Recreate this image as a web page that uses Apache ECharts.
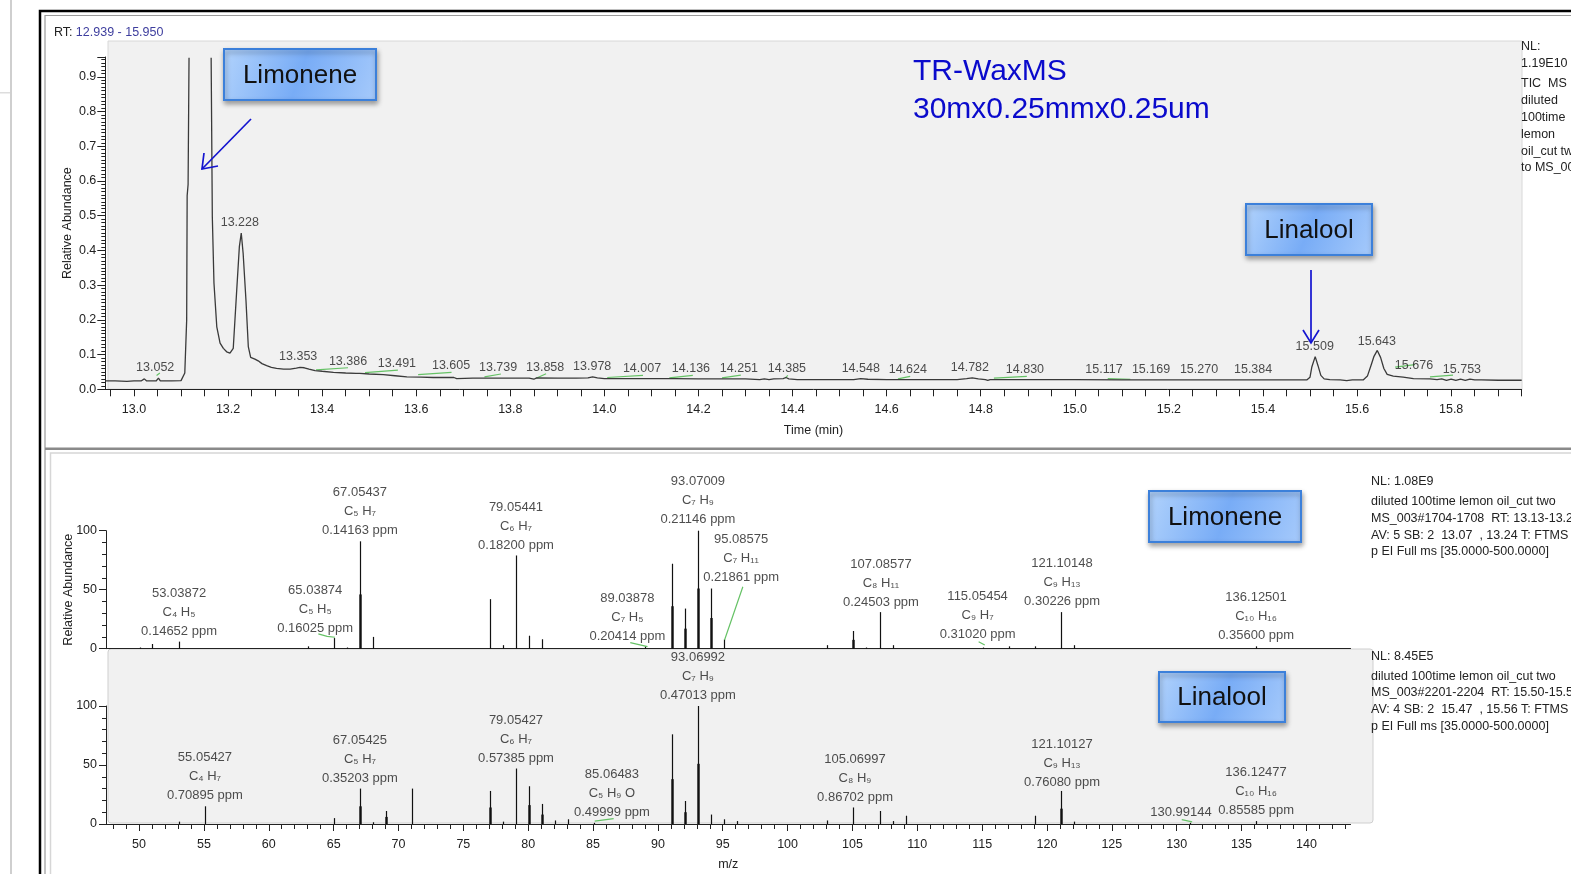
<!DOCTYPE html>
<html><head><meta charset="utf-8">
<script src="https://cdn.jsdelivr.net/npm/echarts@6/dist/echarts.min.js"></script>
<style>html,body{margin:0;padding:0;background:#fff;overflow:hidden}#c{width:1571px;height:874px}</style>
</head><body><div id="c"></div>
<script>
// ---------------- DATA ----------------
// TIC chromatogram trace [time (min), relative abundance]; null = off-scale gap
const ticTrace = [
[12.939,0.024],[12.96,0.024],[12.985,0.023],[13.0,0.024],[13.015,0.024],[13.022,0.030],[13.027,0.024],[13.047,0.024],[13.052,0.032],[13.056,0.024],[13.08,0.024],[13.1,0.025],[13.104,0.027],[13.108,0.047],[13.112,0.2],[13.113,0.557],[13.115,0.59],[13.117,0.955],
[13.14,null],
[13.164,0.955],[13.1665,0.497],[13.170,0.306],[13.176,0.18],[13.183,0.133],[13.19,0.118],[13.197,0.108],[13.204,0.104],[13.211,0.118],[13.218,0.277],[13.224,0.411],[13.228,0.45],[13.232,0.392],[13.238,0.257],[13.243,0.123],[13.248,0.092],[13.257,0.087],[13.264,0.082],[13.272,0.074],[13.282,0.068],[13.292,0.063],[13.303,0.060],[13.318,0.058],[13.332,0.058],[13.345,0.061],[13.353,0.063],[13.362,0.062],[13.372,0.058],[13.385,0.054],[13.40,0.052],[13.424,0.049],[13.45,0.047],[13.472,0.046],[13.476,0.043],[13.48,0.046],[13.5,0.044],[13.53,0.042],[13.555,0.039],[13.58,0.036],[13.61,0.035],[13.636,0.034],[13.68,0.034],[13.686,0.031],[13.72,0.032],[13.76,0.032],[13.8,0.032],[13.84,0.032],[13.85,0.029],[13.856,0.033],[13.9,0.032],[13.94,0.032],[13.965,0.033],[13.975,0.036],[13.985,0.033],[14.0,0.031],[14.05,0.031],[14.1,0.031],[14.15,0.031],[14.2,0.030],[14.25,0.030],[14.3,0.030],[14.33,0.028],[14.34,0.030],[14.35,0.028],[14.36,0.030],[14.38,0.031],[14.386,0.034],[14.392,0.030],[14.41,0.028],[14.45,0.028],[14.5,0.028],[14.53,0.028],[14.545,0.031],[14.56,0.029],[14.6,0.028],[14.65,0.028],[14.7,0.028],[14.75,0.028],[14.77,0.031],[14.782,0.033],[14.795,0.030],[14.81,0.028],[14.815,0.026],[14.82,0.028],[14.9,0.028],[15.0,0.028],[15.1,0.027],[15.2,0.027],[15.3,0.027],[15.4,0.027],[15.493,0.027],[15.50,0.035],[15.504,0.065],[15.511,0.094],[15.517,0.068],[15.523,0.040],[15.53,0.030],[15.542,0.028],[15.564,0.027],[15.578,0.025],[15.59,0.027],[15.613,0.027],[15.622,0.038],[15.630,0.070],[15.636,0.095],[15.643,0.112],[15.650,0.092],[15.657,0.060],[15.664,0.043],[15.677,0.038],[15.698,0.035],[15.72,0.031],[15.755,0.030],[15.77,0.028],[15.78,0.030],[15.79,0.026],[15.80,0.029],[15.81,0.026],[15.82,0.029],[15.83,0.026],[15.84,0.029],[15.85,0.027],[15.865,0.027],[15.9,0.026],[15.95,0.026]
];
// retention time peak labels: text, label x (min), label y (abundance)
const rtLabelText = ['13.052','13.228','13.353','13.386','13.491','13.605','13.739','13.858','13.978','14.007','14.136','14.251','14.385','14.548','14.624','14.782','14.830','15.117','15.169','15.270','15.384','15.509','15.643','15.676','15.753'];
const rtLabelX = [13.045,13.225,13.349,13.455,13.559,13.674,13.774,13.874,13.974,14.080,14.184,14.286,14.388,14.545,14.645,14.777,14.894,15.062,15.162,15.264,15.379,15.510,15.642,15.721,15.823];
const rtLabelY = [0.062,0.481,0.094,0.080,0.073,0.067,0.063,0.063,0.065,0.060,0.060,0.060,0.060,0.060,0.058,0.064,0.058,0.058,0.058,0.058,0.058,0.123,0.137,0.068,0.058];
// integration baselines (green) [t1,v1,t2,v2]
const rtBaselines = [[13.048,0.040,13.055,0.047],[13.387,0.056,13.455,0.062],[13.491,0.048,13.561,0.055],[13.604,0.042,13.675,0.049],[13.745,0.036,13.780,0.044],[13.855,0.032,13.876,0.045],[14.006,0.034,14.082,0.040],[14.138,0.033,14.188,0.040],[14.250,0.033,14.290,0.041],[14.384,0.032,14.390,0.040],[14.624,0.030,14.650,0.037],[14.828,0.032,14.898,0.037],[15.070,0.031,15.118,0.029],[15.681,0.064,15.723,0.071],[15.755,0.036,15.804,0.041]];
const timeTickLabels = [13.0,13.2,13.4,13.6,13.8,14.0,14.2,14.4,14.6,14.8,15.0,15.2,15.4,15.6,15.8];
const mzTickLabels = [50,55,60,65,70,75,80,85,90,95,100,105,110,115,120,125,130,135,140];

// Mass spectra [m/z, relative abundance]
const limoneneSpec = [[50.04,1],[51.02,4],[53.04,6],[63.02,2],[65.04,9],[66.05,1],[67.05,91],[68.06,10],[77.04,42],[78.05,3],[79.05,79],[80.06,11],[81.07,8],[89.04,2],[91.05,72],[92.06,34],[93.07,100],[94.08,51],[95.09,8],[103.05,3],[105.07,15],[106.08,1],[107.09,31],[108.09,3],[115.05,1],[117.07,2],[119.09,2],[121.10,31],[122.1,3],[136.13,2]];
const limoneneProfile = [[67.05,46],[91.05,36],[92.06,17],[93.07,51],[94.08,26],[105.07,7.5]];
const linaloolSpec = [[53.04,2],[55.05,15],[65.04,5],[67.05,30],[68.06,1.5],[69.07,11],[71.05,30],[77.04,28],[78.05,2],[79.05,47],[80.06,32],[81.07,17],[82.08,3],[83.09,4],[85.06,1],[91.05,76],[92.06,19.5],[93.07,100],[94.08,8],[95.09,4],[96.09,2.5],[103.05,3],[105.07,14],[107.09,11],[108.09,2.5],[109.1,7],[119.09,7],[121.10,28],[122.1,2],[131.0,1],[136.12,2.5]];
const linaloolProfile = [[67.05,15],[69.07,6],[77.04,14],[80.06,16],[81.07,8],[91.05,38],[92.06,10],[93.07,51],[121.10,13]];

// Spectrum annotations: label x (m/z), label bottom (abundance), mass, formula, ppm
const limAnnX = [53.08,63.58,67.03,79.06,87.65,93.09,96.42,107.2,114.65,121.16,136.12];
const limAnnY = [6.7,9.2,92,79.8,2.1,101.9,52.5,31.3,4.4,31.8,3.0];
const limAnnMass = ['53.03872','65.03874','67.05437','79.05441','89.03878','93.07009','95.08575','107.08577','115.05454','121.10148','136.12501'];
const limAnnFormula = ['C₄ H₅','C₅ H₅','C₅ H₇','C₆ H₇','C₇ H₅','C₇ H₉','C₇ H₁₁','C₈ H₁₁','C₉ H₇','C₉ H₁₃','C₁₀ H₁₆'];
const limAnnPpm = ['0.14652 ppm','0.16025 ppm','0.14163 ppm','0.18200 ppm','0.20414 ppm','0.21146 ppm','0.21861 ppm','0.24503 ppm','0.31020 ppm','0.30226 ppm','0.35600 ppm'];
const linAnnX = [55.08,67.03,79.06,86.46,93.09,105.2,121.16,130.33,136.12];
const linAnnY = [16.1,30.9,47.9,1.9,100.7,14.5,27.3,1.5,3.2];
const linAnnMass = ['55.05427','67.05425','79.05427','85.06483','93.06992','105.06997','121.10127','130.99144','136.12477'];
const linAnnFormula = ['C₄ H₇','C₅ H₇','C₆ H₇','C₅ H₉ O','C₇ H₉','C₈ H₉','C₉ H₁₃','','C₁₀ H₁₆'];
const linAnnPpm = ['0.70895 ppm','0.35203 ppm','0.57385 ppm','0.49999 ppm','0.47013 ppm','0.86702 ppm','0.76080 ppm','','0.85585 ppm'];
// green leader lines [mz1,v1,mz2,v2]
const limLeaders = [[63.82,12.5,64.5,10.5],[64.5,10.5,65.1,9.7],[87.87,5.1,89.2,1.7],[96.55,52.5,95.14,7.4],[114.73,5.9,115.2,3.1]];
const linLeaders = [[85.13,2.5,86.59,4.6],[130.39,3.7,131.19,1.8]];

// ---------------- CHART ----------------
const FF = '"Liberation Sans", Arial, Helvetica, sans-serif';
const AX = '#222222';
const TX = '#222222';
const chart = echarts.init(document.getElementById('c'), null, {renderer:'canvas'});

const minorTimeTicks = [];
for (let i = 0; i <= 60; i++) minorTimeTicks.push(+(12.95 + i*0.05).toFixed(2));
const mzMinorTicks = [];
for (let m = 48; m <= 143; m++) mzMinorTicks.push(m);

function segs(list){
  const out = [];
  list.forEach(s => { out.push([s[0],s[1]]); out.push([s[2],s[3]]); out.push([s[2],null]); });
  return out;
}
function stickSeries(data, xi, yi, w){
  return {type:'custom', xAxisIndex:xi, yAxisIndex:yi, silent:true, clip:false, z:3,
    data:data,
    renderItem:function(params, api){
      const p0 = api.coord([api.value(0), 0]);
      const p1 = api.coord([api.value(0), api.value(1)]);
      const x = Math.round(p0[0]) + 0.5;
      return {type:'line', shape:{x1:x, y1:p0[1], x2:x, y2:p1[1]}, style:{stroke:'#111', lineWidth:w}};
    }};
}
function annSeries(xs, ys, mass, form, ppm, xi, yi){
  return {type:'scatter', xAxisIndex:xi, yAxisIndex:yi, symbolSize:0, clip:false, silent:true, z:5,
    data: xs.map((x,i)=>({value:[x, ys[i]], label:{formatter: form[i] ? (mass[i]+'\n'+form[i]+'\n'+ppm[i]) : mass[i]}})),
    label:{show:true, position:'top', distance:0, fontSize:13, lineHeight:19, color:TX, fontFamily:FF, align:'center'}};
}
function specY(gi, withName){
  return {type:'value', gridIndex:gi, min:0, max:100, interval:50,
    axisLine:{show:true, lineStyle:{color:AX, width:1}},
    axisTick:{show:true, length:7, lineStyle:{color:AX}},
    minorTick:{show:true, splitNumber:5, length:4, lineStyle:{color:AX}},
    splitLine:{show:false}, minorSplitLine:{show:false},
    axisLabel:{fontSize:12.5, color:TX, margin:9, fontFamily:FF},
    name: withName ? 'Relative Abundance' : '', nameLocation:'middle', nameRotate:90, nameGap:31, nameMoveOverlap:false,
    nameTextStyle:{fontSize:12.5, color:TX, fontFamily:FF}};
}

function box(x, y, w, h, text){
  return {type:'group', z:100, children:[
    {type:'rect', shape:{x:x, y:y, width:w, height:h},
      style:{fill:new echarts.graphic.LinearGradient(0,0,1,1,[{offset:0,color:'#b2d3fc'},{offset:0.5,color:'#78acf6'},{offset:1,color:'#a6cafb'}]),
             stroke:'#3c80da', lineWidth:2, shadowBlur:5, shadowOffsetX:1, shadowOffsetY:3, shadowColor:'rgba(0,0,0,0.35)'}},
    {type:'text', style:{text:text, x:x+w/2, y:y+h/2+1, align:'center', verticalAlign:'middle', textAlign:'center', textVerticalAlign:'middle', font:'26px '+FF, fill:'#111'}}
  ]};
}
function txt(s, x, y, size, color){
  return {type:'text', z:50, style:{text:s, x:x, y:y, align:'left', verticalAlign:'middle', textAlign:'left', textVerticalAlign:'middle', font:size+'px '+FF, fill:color||TX}};
}

const graphics = [
  {type:'rect', z:-20, shape:{x:10, y:0, width:2, height:874}, style:{fill:'#cfcfcf'}},
  {type:'rect', z:-20, shape:{x:0, y:92, width:10, height:1.5}, style:{fill:'#dddddd'}},
  {type:'rect', z:-20, shape:{x:40, y:11, width:1540, height:870}, style:{fill:'#ffffff', stroke:'#000', lineWidth:2.5}},
  {type:'rect', z:-19, shape:{x:45, y:15.5, width:1540, height:870}, style:{fill:'none', stroke:'#9a9a9a', lineWidth:1.2}},
  {type:'rect', z:-18, shape:{x:45, y:447.5, width:1530, height:2.5}, style:{fill:'#8a8a8a'}},
  {type:'rect', z:-18, shape:{x:50.5, y:453, width:1530, height:430}, style:{fill:'none', stroke:'#d6d6d6', lineWidth:1.5}},
  {type:'rect', z:-15, shape:{x:108, y:41, width:1414, height:348}, style:{fill:'#f1f1f1', stroke:'#d8d8d8', lineWidth:1}},
  {type:'rect', z:-15, shape:{x:108, y:649, width:1265, height:174, r:3}, style:{fill:'#f1f1f1', stroke:'#cfcfcf', lineWidth:1}},
  {type:'text', z:50, style:{text:'{a|RT:} {b|12.939 - 15.950}', x:54, y:33, verticalAlign:'middle', textVerticalAlign:'middle', rich:{a:{fontSize:12.5, fontFamily:FF, fill:TX}, b:{fontSize:12.5, fontFamily:FF, fill:'#3e3e9e'}}}},
  txt('TR-WaxMS', 913, 72, 30, '#0a0acc'),
  txt('30mx0.25mmx0.25um', 913, 110, 30, '#0a0acc'),
  txt('NL:', 1521, 47, 12.5), txt('1.19E10', 1521, 64, 12.5), txt('TIC  MS', 1521, 84, 12.5), txt('diluted', 1521, 101, 12.5),
  txt('100time', 1521, 118, 12.5), txt('lemon', 1521, 135, 12.5), txt('oil_cut two', 1521, 152, 12.5), txt('to MS_003', 1521, 168, 12.5),
  txt('NL: 1.08E9', 1371, 482, 12.5),
  txt('diluted 100time lemon oil_cut two', 1371, 502, 12.5),
  txt('MS_003#1704-1708  RT: 13.13-13.24', 1371, 519, 12.5),
  txt('AV: 5 SB: 2  13.07  , 13.24 T: FTMS', 1371, 536, 12.5),
  txt('p EI Full ms [35.0000-500.0000]', 1371, 552, 12.5),
  txt('NL: 8.45E5', 1371, 657, 12.5),
  txt('diluted 100time lemon oil_cut two', 1371, 677, 12.5),
  txt('MS_003#2201-2204  RT: 15.50-15.56', 1371, 693, 12.5),
  txt('AV: 4 SB: 2  15.47  , 15.56 T: FTMS', 1371, 710, 12.5),
  txt('p EI Full ms [35.0000-500.0000]', 1371, 727, 12.5),
  box(224, 49, 152, 51, 'Limonene'),
  box(1246, 204, 126, 51, 'Linalool'),
  box(1149, 491, 152, 51, 'Limonene'),
  box(1159, 672, 126, 50, 'Linalool'),
  {type:'polyline', z:100, shape:{points:[[251,119],[202,169]]}, style:{stroke:'#1414d0', lineWidth:1.7, fill:'none'}},
  {type:'polyline', z:100, shape:{points:[[204,153],[202,169],[218,166]]}, style:{stroke:'#1414d0', lineWidth:1.7, fill:'none'}},
  {type:'polyline', z:100, shape:{points:[[1311,270],[1311,343]]}, style:{stroke:'#1414d0', lineWidth:1.7, fill:'none'}},
  {type:'polyline', z:100, shape:{points:[[1303,330],[1311,343],[1319,330]]}, style:{stroke:'#1414d0', lineWidth:1.7, fill:'none'}}
];

const option = {
  animation:false,
  backgroundColor:'#ffffff',
  textStyle:{fontFamily:FF},
  grid:[
    {left:105.3, right:49.3, top:57, bottom:484.7, containLabel:false},
    {left:106, right:220.5, top:530.7, bottom:225.3, containLabel:false},
    {left:106, right:220.5, top:706, bottom:50, containLabel:false}
  ],
  xAxis:[
    {type:'value', gridIndex:0, position:'bottom', min:12.939, max:15.95,
      axisLine:{show:true, lineStyle:{color:AX, width:1}},
      axisTick:{show:true, length:7, customValues:minorTimeTicks, lineStyle:{color:AX}},
      axisLabel:{customValues:timeTickLabels, formatter:v=>v.toFixed(1), margin:14, fontSize:12.5, color:TX, fontFamily:FF},
      splitLine:{show:false},
      name:'Time (min)', nameLocation:'middle', nameGap:35, nameTextStyle:{fontSize:12.5, color:TX, fontFamily:FF}},
    {type:'value', gridIndex:1, position:'bottom', min:47.45, max:143.4,
      axisLine:{show:true, lineStyle:{color:AX, width:1.2}}, axisTick:{show:false}, axisLabel:{show:false}, splitLine:{show:false}},
    {type:'value', gridIndex:2, position:'bottom', min:47.45, max:143.4,
      axisLine:{show:true, lineStyle:{color:AX, width:1.2}},
      axisTick:{show:true, length:5, customValues:mzMinorTicks, lineStyle:{color:AX}},
      axisLabel:{customValues:mzTickLabels, margin:14, fontSize:12.5, color:TX, fontFamily:FF},
      splitLine:{show:false},
      name:'m/z', nameLocation:'middle', nameGap:34, nameTextStyle:{fontSize:12.5, color:TX, fontFamily:FF}},
    {type:'value', gridIndex:2, position:'bottom', offset:0, min:47.45, max:143.4,
      axisLine:{show:false}, axisTick:{show:true, length:7, customValues:mzTickLabels, lineStyle:{color:AX}},
      axisLabel:{show:false}, splitLine:{show:false}}
  ],
  yAxis:[
    {type:'value', gridIndex:0, min:0, max:0.957, interval:0.1,
      axisLine:{show:true, lineStyle:{color:AX, width:1}},
      axisTick:{show:true, length:8, lineStyle:{color:AX}},
      minorTick:{show:true, splitNumber:10, length:4, lineStyle:{color:AX}},
      splitLine:{show:false}, minorSplitLine:{show:false},
      axisLabel:{formatter:v=>v.toFixed(1), showMaxLabel:false, margin:9, fontSize:12.5, color:TX, fontFamily:FF},
      name:'Relative Abundance', nameLocation:'middle', nameRotate:90, nameGap:31, nameMoveOverlap:false,
      nameTextStyle:{fontSize:12.5, color:TX, fontFamily:FF}},
    specY(1, true),
    specY(2, false)
  ],
  graphic:{elements:graphics},
  series:[
    {type:'line', xAxisIndex:0, yAxisIndex:0, data:ticTrace, showSymbol:false, symbol:'none', connectNulls:false,
      lineStyle:{color:'#3a3a3a', width:1.3}, z:3, silent:true},
    {type:'line', xAxisIndex:0, yAxisIndex:0, data:segs(rtBaselines), showSymbol:false, symbol:'none', connectNulls:false,
      lineStyle:{color:'#66c266', width:1.2}, z:2, silent:true},
    {type:'scatter', xAxisIndex:0, yAxisIndex:0, symbolSize:0, clip:false, silent:true, z:5,
      data: rtLabelX.map((x,i)=>({value:[x, rtLabelY[i]], label:{formatter: rtLabelText[i]}})),
      label:{show:true, position:'inside', fontSize:12.5, color:TX, fontFamily:FF}},
    stickSeries(limoneneSpec, 1, 1, 1.2),
    stickSeries(limoneneProfile, 1, 1, 2.4),
    stickSeries(linaloolSpec, 2, 2, 1.2),
    stickSeries(linaloolProfile, 2, 2, 2.4),
    {type:'line', xAxisIndex:1, yAxisIndex:1, data:segs(limLeaders), showSymbol:false, symbol:'none', connectNulls:false, clip:false,
      lineStyle:{color:'#66c266', width:1.2}, z:4, silent:true},
    {type:'line', xAxisIndex:2, yAxisIndex:2, data:segs(linLeaders), showSymbol:false, symbol:'none', connectNulls:false, clip:false,
      lineStyle:{color:'#66c266', width:1.2}, z:4, silent:true},
    annSeries(limAnnX, limAnnY, limAnnMass, limAnnFormula, limAnnPpm, 1, 1),
    annSeries(linAnnX, linAnnY, linAnnMass, linAnnFormula, linAnnPpm, 2, 2)
  ]
};
chart.setOption(option);
</script>
</body></html>
